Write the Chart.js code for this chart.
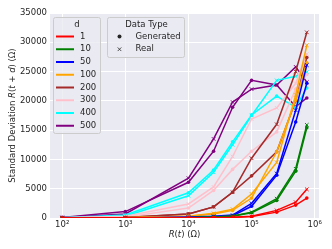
<!DOCTYPE html>
<html>
<head>
<meta charset="utf-8">
<script src="https://cdn.jsdelivr.net/npm/chart.js@4.4.0/dist/chart.umd.min.js"></script>
<style>
  body { margin: 0; background: #fff; }
  #wrap { width: 332px; height: 249px; }
</style>
</head>
<body>
<div id="wrap"><canvas id="chart" width="332" height="249"></canvas></div>
<script>
// --- Data ---
const xValues = [100, 1000, 10000, 25000, 50000, 100000, 250000, 500000, 750000];
const dLabels = ['1', '10', '50', '100', '200', '300', '400', '500'];
const dColors = ['#ff0000', '#008000', '#0000ff', '#ffa500', '#a52a2a', '#ffc0cb', '#00ffff', '#800080'];

// Generated (dot) and Real (x) for each d
const gen1   = [0, 2, 20, 50, 100, 250, 1000, 2200, 3400];
const real1  = [0, 2, 20, 60, 120, 300, 1300, 2700, 4900];
const gen10  = [0, 5, 50, 150, 300, 900, 3000, 8000, 15400];
const real10 = [0, 5, 60, 160, 350, 1000, 3300, 8400, 15900];
const gen50  = [0, 10, 100, 250, 400, 2000, 7300, 16400, 23000];
const real50 = [0, 10, 150, 300, 500, 2500, 7600, 18400, 26100];
const gen100  = [20, 30, 300, 700, 1300, 3400, 11300, 20100, 26500];
const real100 = [20, 40, 300, 800, 1500, 4100, 9500, 21000, 29500];
const gen200  = [30, 100, 700, 1900, 4400, 7200, 11300, 20000, 27400];
const real200 = [30, 100, 700, 1900, 4400, 10200, 16000, 25000, 31700];
const gen300  = [40, 150, 1700, 4700, 8300, 11400, 14700, 22000, 24500];
const real300 = [40, 300, 2400, 5300, 10500, 16900, 18800, 23000, 28000];
const gen400  = [50, 500, 4300, 8200, 13000, 17600, 20800, 18900, 22200];
const real400 = [50, 300, 3800, 7800, 12500, 17500, 23500, 24200, 24900];
const gen500  = [100, 1100, 6100, 11400, 18900, 23500, 22700, 19000, 20500];
const real500 = [100, 700, 6800, 13500, 19800, 22000, 22700, 25800, 23200];

const genSeries  = [gen1, gen10, gen50, gen100, gen200, gen300, gen400, gen500];
const realSeries = [real1, real10, real50, real100, real200, real300, real400, real500];

const xTicks = [100, 1000, 10000, 100000, 1000000];
const yTicks = [0, 5000, 10000, 15000, 20000, 25000, 30000, 35000];

// --- Styles ---
const TEXT = '#262626';
const FAMILY = '"DejaVu Sans", sans-serif';
const FSIZE = 8.5;
const SUP = { 2: '\u00b2', 3: '\u00b3', 4: '\u2074', 5: '\u2075', 6: '\u2076' };

// --- Datasets ---
const datasets = [];
dLabels.forEach((d, k) => {
  const c = dColors[k];
  datasets.push({
    label: d + ' Generated',
    data: xValues.map((x, i) => ({ x, y: genSeries[k][i] })),
    borderColor: c, backgroundColor: c, borderWidth: 1.5,
    pointStyle: 'circle', pointRadius: 1.8, pointBorderWidth: 0
  });
  datasets.push({
    label: d + ' Real',
    data: xValues.map((x, i) => ({ x, y: realSeries[k][i] })),
    borderColor: c, backgroundColor: c, borderWidth: 1.5,
    pointStyle: 'crossRot', pointRadius: 2.5, pointBorderWidth: 1
  });
});

// --- Helpers ---
function richWidth(ctx, parts) {
  return parts.reduce((w, p) => {
    ctx.font = (p[1] ? 'italic ' : '') + FSIZE + 'px ' + FAMILY;
    return w + ctx.measureText(p[0]).width;
  }, 0);
}
function drawRich(ctx, parts, cx, cy) {
  let x = cx - richWidth(ctx, parts) / 2;
  ctx.textBaseline = 'middle';
  ctx.textAlign = 'left';
  parts.forEach(p => {
    ctx.font = (p[1] ? 'italic ' : '') + FSIZE + 'px ' + FAMILY;
    ctx.fillText(p[0], x, cy);
    x += ctx.measureText(p[0]).width;
  });
}
function roundBox(ctx, x, y, w, h) {
  ctx.beginPath();
  ctx.roundRect(x, y, w, h, 2);
  ctx.fillStyle = 'rgba(234,234,242,0.8)';
  ctx.fill();
  ctx.strokeStyle = '#cccccc';
  ctx.lineWidth = 1;
  ctx.stroke();
}

// --- Plugins ---
const bgPlugin = {
  id: 'axesBg',
  beforeDraw(chart) {
    const { ctx, chartArea: a } = chart;
    ctx.save();
    ctx.fillStyle = '#eaeaf2';
    ctx.fillRect(a.left, a.top, a.right - a.left, a.bottom - a.top);
    ctx.restore();
  }
};

const legendPlugin = {
  id: 'boxLegends',
  afterDatasetsDraw(chart) {
    const { ctx, chartArea: a } = chart;
    ctx.save();
    ctx.font = FSIZE + 'px ' + FAMILY;
    ctx.fillStyle = TEXT;
    ctx.textBaseline = 'middle';

    // d legend
    const bx = a.left + 3.5, by = a.top + 4.5;
    roundBox(ctx, bx, by, 47, 116);
    ctx.fillStyle = TEXT;
    ctx.textAlign = 'center';
    ctx.fillText('d', bx + 23.5, by + 7);
    dLabels.forEach((d, k) => {
      const yy = by + 19 + k * 12.75;
      ctx.strokeStyle = dColors[k];
      ctx.lineWidth = 2;
      ctx.beginPath();
      ctx.moveTo(bx + 2.5, yy);
      ctx.lineTo(bx + 20.5, yy);
      ctx.stroke();
      ctx.textAlign = 'left';
      ctx.fillStyle = TEXT;
      ctx.fillText(d, bx + 26.5, yy);
    });

    // Data Type legend
    const cx = a.left + 57.5, cy = a.top + 4.5;
    roundBox(ctx, cx, cy, 77, 40);
    ctx.fillStyle = TEXT;
    ctx.textAlign = 'center';
    ctx.fillText('Data Type', cx + 39, cy + 7);
    ctx.textAlign = 'left';
    const y1 = cy + 19, y2 = cy + 31.75, mx = cx + 12;
    ctx.beginPath();
    ctx.arc(mx, y1, 2, 0, Math.PI * 2);
    ctx.fill();
    ctx.fillText('Generated', cx + 28, y1);
    ctx.strokeStyle = TEXT;
    ctx.lineWidth = 0.8;
    ctx.beginPath();
    ctx.moveTo(mx - 1.8, y2 - 1.8); ctx.lineTo(mx + 1.8, y2 + 1.8);
    ctx.moveTo(mx - 1.8, y2 + 1.8); ctx.lineTo(mx + 1.8, y2 - 1.8);
    ctx.stroke();
    ctx.fillText('Real', cx + 28, y2);
    ctx.restore();
  },
  afterDraw(chart) {
    const { ctx, chartArea: a } = chart;
    ctx.save();
    ctx.fillStyle = TEXT;
    drawRich(ctx, [['R', true], ['(', false], ['t', true], [') (\u03a9)', false]],
      (a.left + a.right) / 2, a.bottom + 16.5);
    ctx.translate(13, (a.top + a.bottom) / 2);
    ctx.rotate(-Math.PI / 2);
    drawRich(ctx, [['Standard Deviation ', false], ['R', true], ['(', false], ['t', true],
      [' + ', false], ['d', true], [') (\u03a9)', false]], 0, 0);
    ctx.restore();
  }
};

// --- Chart ---
new Chart(document.getElementById('chart'), {
  type: 'line',
  data: { datasets },
  options: {
    responsive: false,
    animation: false,
    layout: { padding: { top: 13, right: 13, left: 0, bottom: 0 } },
    plugins: { legend: { display: false }, tooltip: { enabled: false } },
    scales: {
      x: {
        type: 'logarithmic',
        min: 64, max: 1170000,
        afterBuildTicks: s => { s.ticks = xTicks.map(v => ({ value: v })); },
        afterFit: s => { s.height = 31; },
        grid: { color: '#ffffff', lineWidth: 1, drawTicks: false },
        border: { display: false },
        ticks: {
          color: TEXT, padding: 2,
          font: { family: FAMILY, size: FSIZE },
          callback: v => '10' + SUP[Math.round(Math.log10(v))]
        }
      },
      y: {
        min: 0, max: 35000,
        afterBuildTicks: s => { s.ticks = yTicks.map(v => ({ value: v })); },
        afterFit: s => { s.width = 50; },
        grid: { color: '#ffffff', lineWidth: 1, drawTicks: false },
        border: { display: false },
        ticks: {
          color: TEXT, padding: 3,
          font: { family: FAMILY, size: FSIZE },
          callback: v => String(v)
        }
      }
    }
  },
  plugins: [bgPlugin, legendPlugin]
});
</script>
</body>
</html>
